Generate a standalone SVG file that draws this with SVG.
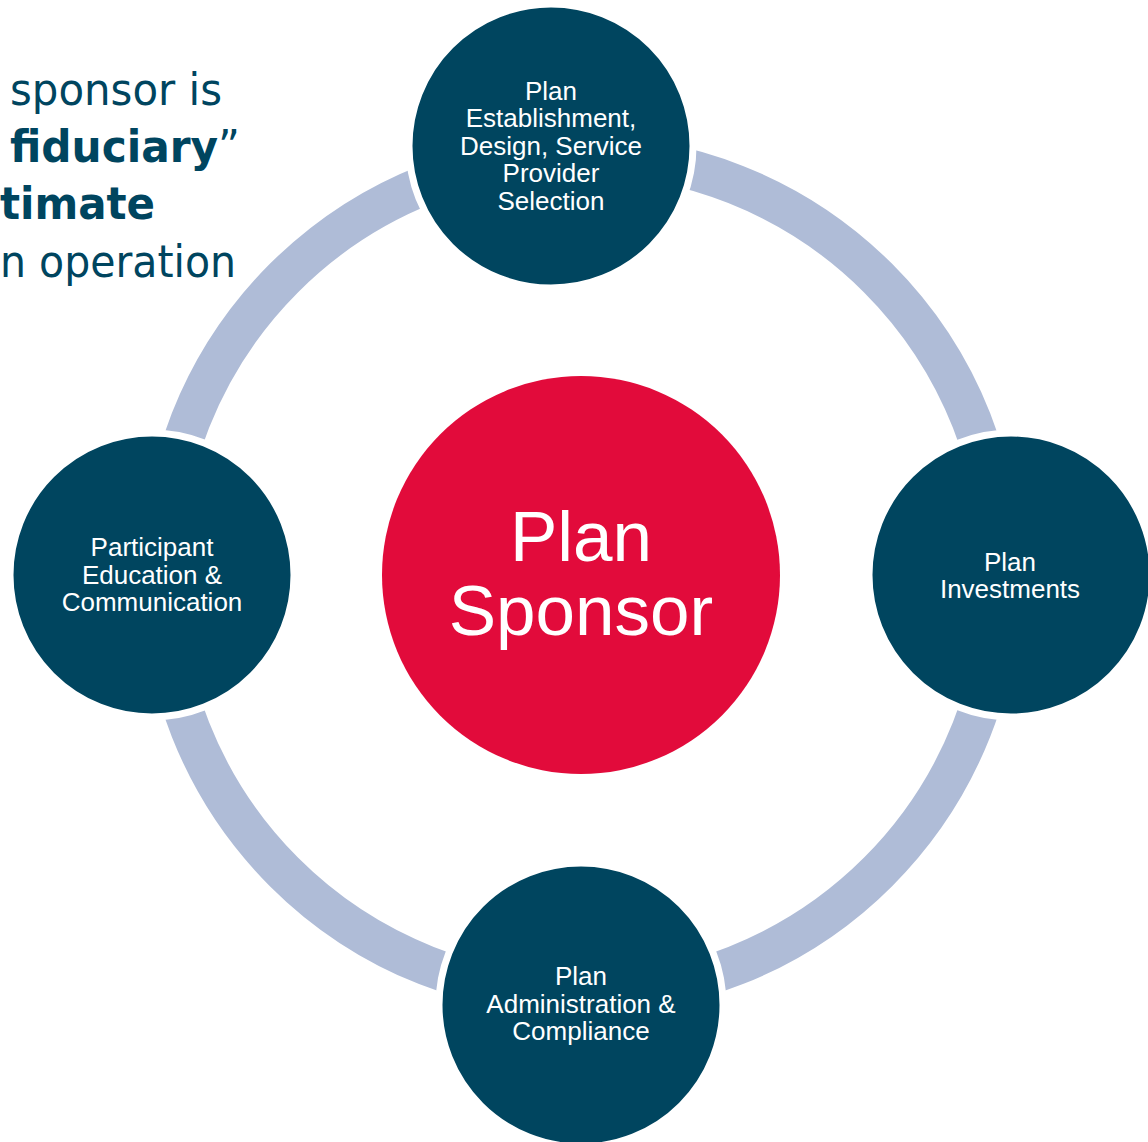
<svg xmlns="http://www.w3.org/2000/svg" width="1148" height="1142" viewBox="0 0 1148 1142">
  <style>
    .ring { fill: none; stroke: #afbcd7; stroke-width: 40; }
    .node { fill: #00455f; stroke: #ffffff; stroke-width: 7; }
    .ntxt { font-family: "Liberation Sans", Arial, sans-serif; font-size: 26px; fill: #ffffff; text-anchor: middle; }
    .ctxt { font-family: "Liberation Sans", Arial, sans-serif; font-size: 71px; fill: #ffffff; text-anchor: middle; }
    .side { font-family: "DejaVu Sans", Verdana, sans-serif; font-size: 44px; fill: #00455f; }
  </style>
  <rect width="1148" height="1142" fill="#ffffff"/>

  <g id="side-text">
    <text class="side" x="10" y="105" textLength="212" lengthAdjust="spacingAndGlyphs">sponsor is</text>
    <text class="side" x="10" y="162" textLength="230" lengthAdjust="spacingAndGlyphs"><tspan font-weight="bold">fiduciary</tspan>”</text>
    <text class="side" x="0" y="219" font-weight="bold" textLength="155" lengthAdjust="spacingAndGlyphs">timate</text>
    <text class="side" x="0" y="277" textLength="236" lengthAdjust="spacingAndGlyphs">n operation</text>
  </g>

  <g id="connectors">
    <path class="ring" d="M 581 155 A 420 420 0 0 1 1001 575"/>
    <path class="ring" d="M 1001 575 A 420 420 0 0 1 581 995"/>
    <path class="ring" d="M 581 995 A 420 420 0 0 1 161 575"/>
    <path class="ring" d="M 161 575 A 420 420 0 0 1 581 155"/>
  </g>

  <g id="node-establishment">
    <circle class="node" cx="551" cy="146" r="142"/>
    <text class="ntxt" x="551" y="100">Plan</text>
    <text class="ntxt" x="551" y="127">Establishment,</text>
    <text class="ntxt" x="551" y="155">Design, Service</text>
    <text class="ntxt" x="551" y="182">Provider</text>
    <text class="ntxt" x="551" y="210">Selection</text>
  </g>

  <g id="node-investments">
    <circle class="node" cx="1011" cy="575" r="142"/>
    <text class="ntxt" x="1010" y="571">Plan</text>
    <text class="ntxt" x="1010" y="598">Investments</text>
  </g>

  <g id="node-administration">
    <circle class="node" cx="581" cy="1005" r="142"/>
    <text class="ntxt" x="581" y="985">Plan</text>
    <text class="ntxt" x="581" y="1013">Administration &amp;</text>
    <text class="ntxt" x="581" y="1040">Compliance</text>
  </g>

  <g id="node-education">
    <circle class="node" cx="152" cy="575" r="142"/>
    <text class="ntxt" x="152" y="556">Participant</text>
    <text class="ntxt" x="152" y="584">Education &amp;</text>
    <text class="ntxt" x="152" y="611">Communication</text>
  </g>

  <g id="node-sponsor">
    <circle cx="581" cy="575" r="199" fill="#e20b3b"/>
    <text class="ctxt" x="581" y="561">Plan</text>
    <text class="ctxt" x="581" y="635">Sponsor</text>
  </g>
</svg>
